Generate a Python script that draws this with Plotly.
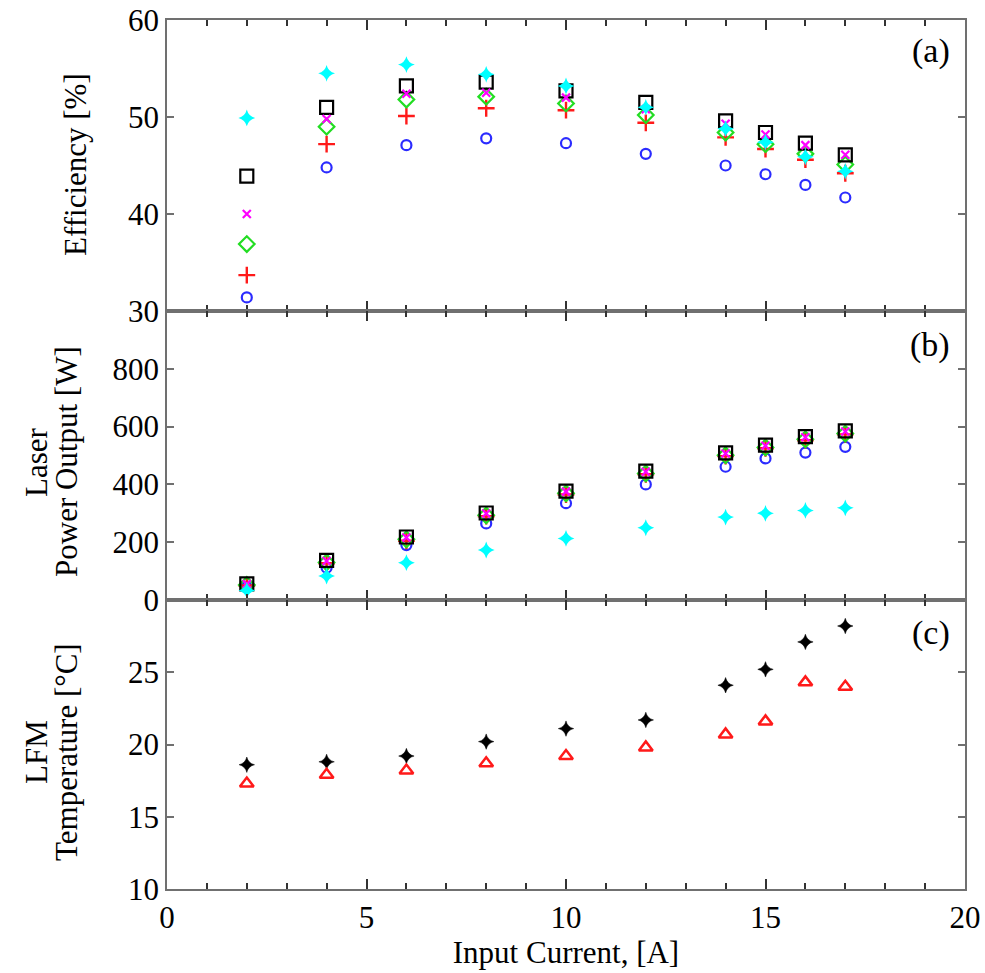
import plotly.graph_objects as go

current = [2, 4, 6, 8, 10, 12, 14, 15, 16, 17]

# Panel (a): efficiency [%]
eff_blue = [31.4, 44.8, 47.1, 47.8, 47.3, 46.2, 45.0, 44.1, 43.0, 41.7]
eff_red = [33.7, 47.2, 50.1, 50.9, 50.7, 49.4, 47.9, 46.7, 45.6, 44.2]
eff_green = [36.9, 49.0, 51.8, 52.1, 51.4, 50.2, 48.4, 47.2, 46.2, 45.1]
eff_magenta = [40.0, 49.8, 52.4, 52.5, 52.0, 50.8, 49.3, 48.2, 47.1, 46.1]
eff_black = [43.9, 51.0, 53.2, 53.6, 52.7, 51.5, 49.6, 48.4, 47.3, 46.1]
eff_cyan = [49.9, 54.5, 55.4, 54.4, 53.2, 51.0, 48.8, 47.4, 45.9, 44.4]

# Panel (b): laser power output [W]
pow_blue = [45, 112, 190, 265, 335, 400, 461, 490, 510, 530]
pow_red = [50, 127, 205, 290, 365, 435, 498, 525, 553, 573]
pow_green = [52, 130, 210, 293, 369, 438, 501, 528, 556, 576]
pow_magenta = [55, 135, 216, 299, 375, 444, 507, 534, 563, 583]
pow_black = [56, 137, 218, 301, 377, 446, 509, 536, 565, 585]
pow_cyan = [33, 83, 129, 173, 213, 250, 287, 300, 310, 319]

# Panel (c): LFM temperature [C]
temp_black = [18.6, 18.8, 19.2, 20.2, 21.1, 21.7, 24.1, 25.2, 27.1, 28.2]
temp_red = [17.3, 17.9, 18.2, 18.7, 19.2, 19.8, 20.7, 21.6, 24.3, 24.0]

x_ticks = [0, 5, 10, 15, 20]
a_ticks = [30, 40, 50, 60]
b_ticks = [0, 200, 400, 600, 800]
c_ticks = [10, 15, 20, 25]

FONT = "Times New Roman, Liberation Serif, serif"

styles = [
    ("circle-open", "#2b2bff", 10, 2.2),
    ("cross-thin-open", "#ff1a1a", 12, 2.4),
    ("diamond-open", "#22dd22", 12, 2.2),
    ("square-open", "black", 13, 2.2),
    ("x-thin-open", "#ff00ff", 8, 2.2),
    ("star-diamond", "#00ffff", 12, 0),
]

fig = go.Figure()

def add_group(series, xa, ya):
    for (sym, col, size, lw), ys in zip(styles, series):
        fig.add_trace(go.Scatter(
            x=current, y=ys, mode="markers", xaxis=xa, yaxis=ya,
            marker=dict(symbol=sym, color=col, size=size,
                        line=dict(color=col, width=lw)),
            showlegend=False))

add_group([eff_blue, eff_red, eff_green, eff_black, eff_magenta, eff_cyan], "x", "y")
add_group([pow_blue, pow_red, pow_green, pow_black, pow_magenta, pow_cyan], "x2", "y2")

fig.add_trace(go.Scatter(x=current, y=temp_black, mode="markers", xaxis="x3", yaxis="y3",
                         marker=dict(symbol="star-diamond", color="black", size=11,
                                     line=dict(color="black", width=0.5)),
                         showlegend=False))
fig.add_trace(go.Scatter(x=current, y=temp_red, mode="markers", xaxis="x3", yaxis="y3",
                         marker=dict(symbol="triangle-up-open", color="#ff1a1a", size=12,
                                     line=dict(color="#ff1a1a", width=2.5)),
                         showlegend=False))

H = 869.0
d_c = [0, 289 / H]
d_b = [289 / H, 578 / H]
d_a = [578 / H, 1]

axcol = "#707070"
tickfont = dict(family=FONT, size=31, color="black")

def xaxis(anchor, labels):
    return dict(range=[0, 20], domain=[0, 1], anchor=anchor, tickvals=x_ticks,
                showticklabels=labels, ticks="inside", ticklen=10, tickwidth=1.5,
                tickcolor="#333333", showline=True, linecolor=axcol, linewidth=1.5,
                mirror="ticks", showgrid=False, zeroline=False, tickfont=tickfont,
                automargin=False,
                minor=dict(dtick=1, ticks="inside", ticklen=6, tickwidth=1.5,
                           tickcolor="#333333", showgrid=False),
                title=dict(text="Input Current, [A]" if labels else "",
                           font=dict(family=FONT, size=31, color="black"), standoff=0))

def yaxis(anchor, dom, rng, vals):
    return dict(range=rng, domain=dom, anchor=anchor, tickvals=vals,
                ticks="inside", ticklen=7, tickwidth=1.5, tickcolor=axcol,
                showline=True, linecolor=axcol, linewidth=1.5, mirror="ticks",
                showgrid=False, zeroline=False, tickfont=tickfont, automargin=False)

fig.update_layout(
    template="none",
    width=985, height=973,
    margin=dict(l=167, r=20, t=20, b=84, autoexpand=False),
    paper_bgcolor="white", plot_bgcolor="white",
    font=dict(family=FONT, color="black"),
    xaxis=xaxis("y", False),
    xaxis2=xaxis("y2", False),
    xaxis3=xaxis("y3", True),
    yaxis=yaxis("x", d_a, [30, 60], a_ticks),
    yaxis2=yaxis("x2", d_b, [0, 1000], b_ticks),
    yaxis3=yaxis("x3", d_c, [10, 30], c_ticks),
)
fig.update_layout(xaxis2=dict(matches="x"), xaxis3=dict(matches="x"))

def px_x(p):
    return (p - 167) / 798.0

def px_y(p):
    return 1 - (p - 20) / H

ann = []
for txt, yc in [("(a)", 51), ("(b)", 345), ("(c)", 633)]:
    ann.append(dict(text=txt, x=px_x(952), y=px_y(yc), xref="paper", yref="paper",
                    xanchor="right", yanchor="middle", showarrow=False,
                    font=dict(family=FONT, size=34, color="black")))

for txt, xc, yc in [("Efficiency [%]", 75, 165),
                    ("Laser", 36, 462), ("Power Output [W]", 66, 462),
                    ("LFM", 36, 752), ("Temperature [°C]", 66, 752)]:
    ann.append(dict(text=txt, x=px_x(xc), y=px_y(yc), xref="paper", yref="paper",
                    xanchor="center", yanchor="middle", textangle=-90, showarrow=False,
                    font=dict(family=FONT, size=31, color="black")))

fig.update_layout(annotations=ann)

fig.write_html("out.html")
